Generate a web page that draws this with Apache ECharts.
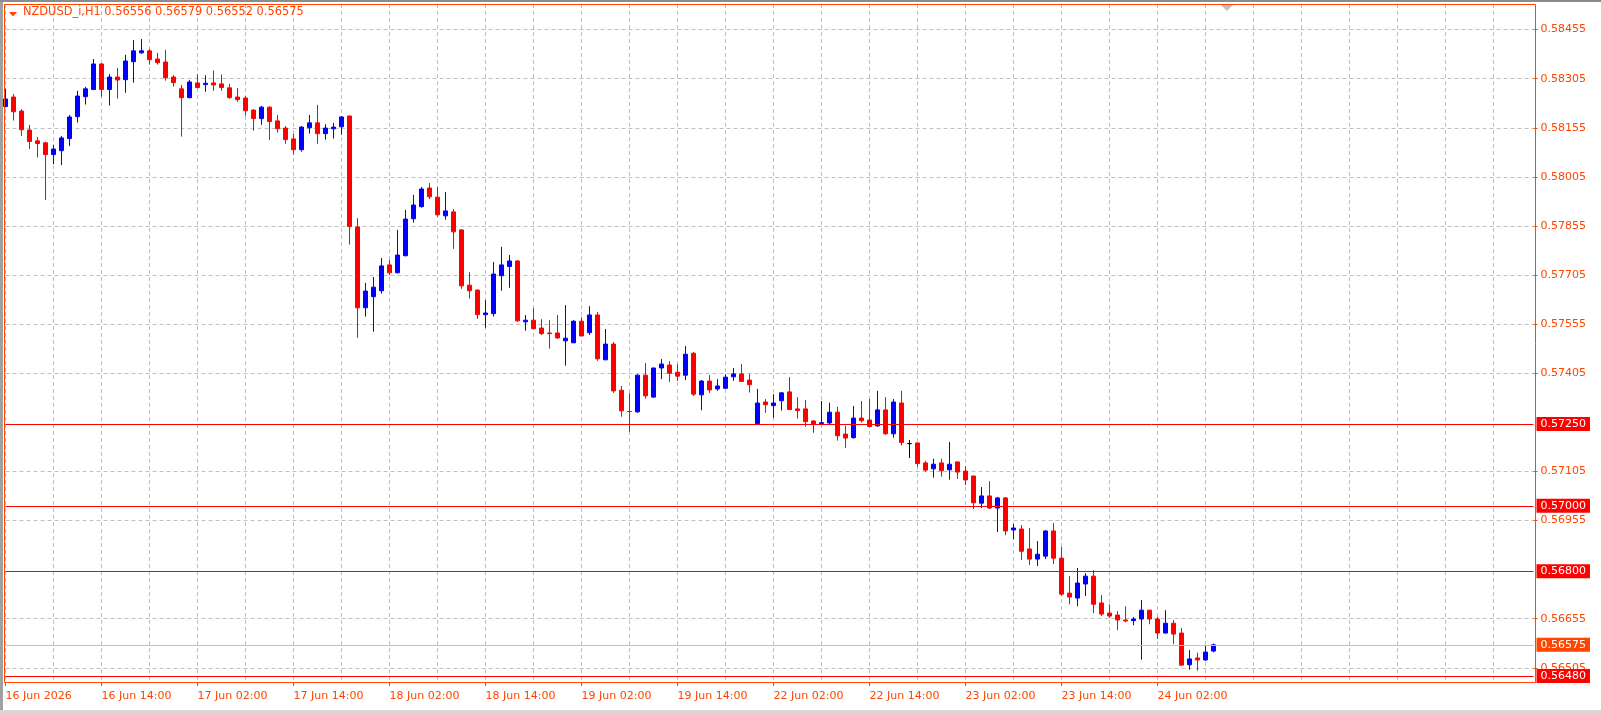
<!DOCTYPE html>
<html>
<head>
<meta charset="utf-8">
<script src="https://cdn.jsdelivr.net/npm/echarts@6/dist/echarts.min.js"></script>
<style>
  html, body { margin: 0; padding: 0; background: #ffffff; }
  #main { width: 1601px; height: 713px; }
</style>
</head>
<body>
<div id="main"></div>
<script>
// NZDUSD_i H1 - bars from 16 Jun 02:00 to 24 Jun 09:00
var days = [['16 Jun', 2, 23], ['17 Jun', 0, 23], ['18 Jun', 0, 23], ['19 Jun', 0, 23],
            ['22 Jun', 0, 23], ['23 Jun', 0, 23], ['24 Jun', 0, 9]];
var tickLabels = ['16 Jun 2026', '16 Jun 14:00', '17 Jun 02:00', '17 Jun 14:00', '18 Jun 02:00',
                  '18 Jun 14:00', '19 Jun 02:00', '19 Jun 14:00', '22 Jun 02:00', '22 Jun 14:00',
                  '23 Jun 02:00', '23 Jun 14:00', '24 Jun 02:00'];
var yTicks = [0.58455, 0.58305, 0.58155, 0.58005, 0.57855, 0.57705, 0.57555, 0.57405,
              0.57105, 0.56955, 0.56655, 0.56505];
var levels = [0.57250, 0.57000, 0.56800, 0.56480];
var bid = 0.56575;
var futureBars = 40;

var openP = [
  0.58220, 0.58249, 0.58206, 0.58148, 0.58115, 0.58109, 0.58073, 0.58085, 0.58122, 0.58189,
  0.58250, 0.58272, 0.58350, 0.58272, 0.58310, 0.58302, 0.58357, 0.58384, 0.58390, 0.58365,
  0.58356, 0.58310, 0.58274, 0.58247, 0.58292, 0.58287, 0.58292, 0.58289, 0.58277, 0.58249,
  0.58246, 0.58209, 0.58183, 0.58218, 0.58176, 0.58154, 0.58121, 0.58088, 0.58155, 0.58170,
  0.58137, 0.58152, 0.58158, 0.58191, 0.57852, 0.57605, 0.57639, 0.57657, 0.57736, 0.57712,
  0.57764, 0.57877, 0.57914, 0.57971, 0.57943, 0.57886, 0.57898, 0.57843, 0.57674, 0.57659,
  0.57584, 0.57587, 0.57703, 0.57731, 0.57748, 0.57562, 0.57567, 0.57543, 0.57528, 0.57528,
  0.57504, 0.57498, 0.57564, 0.57529, 0.57583, 0.57446, 0.57494, 0.57353, 0.57288, 0.57287,
  0.57399, 0.57332, 0.57421, 0.57430, 0.57408, 0.57399, 0.57466, 0.57339, 0.57381, 0.57357,
  0.57359, 0.57394, 0.57403, 0.57384, 0.57251, 0.57317, 0.57306, 0.57321, 0.57348, 0.57296,
  0.57296, 0.57259, 0.57251, 0.57253, 0.57286, 0.57219, 0.57208, 0.57268, 0.57262, 0.57244,
  0.57293, 0.57220, 0.57314, 0.57190, 0.57192, 0.57131, 0.57113, 0.57131, 0.57110, 0.57134,
  0.57106, 0.57091, 0.57008, 0.57030, 0.56993, 0.57024, 0.56926, 0.56929, 0.56868, 0.56837,
  0.56846, 0.56923, 0.56840, 0.56733, 0.56718, 0.56761, 0.56785, 0.56703, 0.56672, 0.56666,
  0.56651, 0.56649, 0.56654, 0.56681, 0.56654, 0.56611, 0.56641, 0.56611, 0.56514, 0.56535,
  0.56529, 0.56556
];
var highP = [
  0.58274, 0.58258, 0.58212, 0.58164, 0.58127, 0.58112, 0.58102, 0.58130, 0.58194, 0.58268,
  0.58280, 0.58365, 0.58352, 0.58319, 0.58338, 0.58378, 0.58423, 0.58426, 0.58396, 0.58384,
  0.58393, 0.58316, 0.58286, 0.58301, 0.58319, 0.58315, 0.58330, 0.58318, 0.58289, 0.58277,
  0.58252, 0.58212, 0.58222, 0.58220, 0.58194, 0.58160, 0.58136, 0.58160, 0.58194, 0.58225,
  0.58166, 0.58170, 0.58191, 0.58192, 0.57879, 0.57681, 0.57699, 0.57757, 0.57751, 0.57843,
  0.57904, 0.57950, 0.57974, 0.57986, 0.57974, 0.57959, 0.57907, 0.57845, 0.57714, 0.57661,
  0.57629, 0.57745, 0.57791, 0.57766, 0.57751, 0.57583, 0.57604, 0.57570, 0.57567, 0.57583,
  0.57613, 0.57567, 0.57576, 0.57610, 0.57592, 0.57540, 0.57500, 0.57366, 0.57344, 0.57402,
  0.57436, 0.57422, 0.57448, 0.57442, 0.57433, 0.57488, 0.57470, 0.57384, 0.57399, 0.57387,
  0.57402, 0.57421, 0.57433, 0.57403, 0.57357, 0.57326, 0.57341, 0.57348, 0.57393, 0.57332,
  0.57323, 0.57262, 0.57320, 0.57315, 0.57302, 0.57245, 0.57305, 0.57320, 0.57326, 0.57351,
  0.57332, 0.57326, 0.57351, 0.57201, 0.57193, 0.57137, 0.57144, 0.57144, 0.57195, 0.57135,
  0.57121, 0.57092, 0.57057, 0.57075, 0.57027, 0.57027, 0.56944, 0.56941, 0.56932, 0.56892,
  0.56925, 0.56947, 0.56874, 0.56785, 0.56810, 0.56794, 0.56803, 0.56727, 0.56699, 0.56678,
  0.56693, 0.56660, 0.56712, 0.56682, 0.56660, 0.56681, 0.56651, 0.56626, 0.56559, 0.56551,
  0.56574, 0.56579
];
var lowP = [
  0.58217, 0.58177, 0.58130, 0.58090, 0.58064, 0.57934, 0.58044, 0.58041, 0.58099, 0.58171,
  0.58226, 0.58270, 0.58250, 0.58223, 0.58244, 0.58262, 0.58293, 0.58381, 0.58348, 0.58348,
  0.58299, 0.58281, 0.58128, 0.58245, 0.58275, 0.58265, 0.58268, 0.58268, 0.58244, 0.58234,
  0.58192, 0.58146, 0.58164, 0.58118, 0.58140, 0.58106, 0.58073, 0.58082, 0.58137, 0.58106,
  0.58119, 0.58122, 0.58134, 0.57798, 0.57513, 0.57578, 0.57532, 0.57648, 0.57705, 0.57710,
  0.57762, 0.57865, 0.57911, 0.57937, 0.57883, 0.57874, 0.57785, 0.57663, 0.57633, 0.57571,
  0.57544, 0.57578, 0.57657, 0.57666, 0.57562, 0.57535, 0.57540, 0.57522, 0.57480, 0.57510,
  0.57428, 0.57497, 0.57518, 0.57522, 0.57443, 0.57445, 0.57345, 0.57272, 0.57226, 0.57284,
  0.57327, 0.57330, 0.57387, 0.57378, 0.57381, 0.57384, 0.57335, 0.57292, 0.57345, 0.57351,
  0.57358, 0.57382, 0.57378, 0.57346, 0.57248, 0.57284, 0.57269, 0.57291, 0.57293, 0.57266,
  0.57242, 0.57223, 0.57250, 0.57248, 0.57199, 0.57177, 0.57205, 0.57254, 0.57240, 0.57242,
  0.57217, 0.57208, 0.57184, 0.57146, 0.57119, 0.57104, 0.57086, 0.57089, 0.57080, 0.57082,
  0.57063, 0.56990, 0.56993, 0.56990, 0.56920, 0.56910, 0.56898, 0.56834, 0.56819, 0.56816,
  0.56837, 0.56822, 0.56724, 0.56699, 0.56693, 0.56724, 0.56672, 0.56663, 0.56657, 0.56620,
  0.56644, 0.56635, 0.56530, 0.56638, 0.56593, 0.56610, 0.56577, 0.56512, 0.56499, 0.56496,
  0.56526, 0.56552
];
var closeP = [
  0.58243, 0.58204, 0.58149, 0.58113, 0.58107, 0.58073, 0.58090, 0.58124, 0.58188, 0.58252,
  0.58274, 0.58350, 0.58272, 0.58310, 0.58301, 0.58359, 0.58390, 0.58390, 0.58363, 0.58354,
  0.58308, 0.58293, 0.58247, 0.58295, 0.58278, 0.58291, 0.58286, 0.58278, 0.58247, 0.58241,
  0.58207, 0.58183, 0.58218, 0.58174, 0.58152, 0.58119, 0.58088, 0.58157, 0.58170, 0.58137,
  0.58154, 0.58157, 0.58188, 0.57853, 0.57605, 0.57656, 0.57668, 0.57733, 0.57712, 0.57766,
  0.57876, 0.57919, 0.57968, 0.57944, 0.57889, 0.57901, 0.57837, 0.57672, 0.57657, 0.57584,
  0.57589, 0.57708, 0.57736, 0.57748, 0.57565, 0.57567, 0.57541, 0.57526, 0.57526, 0.57513,
  0.57512, 0.57564, 0.57519, 0.57583, 0.57449, 0.57494, 0.57351, 0.57290, 0.57288, 0.57399,
  0.57336, 0.57421, 0.57433, 0.57405, 0.57396, 0.57463, 0.57341, 0.57381, 0.57354, 0.57366,
  0.57393, 0.57403, 0.57380, 0.57370, 0.57314, 0.57309, 0.57314, 0.57345, 0.57294, 0.57291,
  0.57257, 0.57248, 0.57254, 0.57286, 0.57214, 0.57207, 0.57268, 0.57260, 0.57242, 0.57293,
  0.57220, 0.57317, 0.57193, 0.57190, 0.57129, 0.57109, 0.57127, 0.57107, 0.57127, 0.57103,
  0.57079, 0.57009, 0.57030, 0.56993, 0.57024, 0.56923, 0.56932, 0.56861, 0.56837, 0.56852,
  0.56923, 0.56840, 0.56730, 0.56721, 0.56764, 0.56785, 0.56699, 0.56669, 0.56663, 0.56651,
  0.56648, 0.56654, 0.56681, 0.56654, 0.56611, 0.56641, 0.56608, 0.56513, 0.56532, 0.56529,
  0.56553, 0.56575
];
var blackDoji = [113];

var orange = '#ff4500';
var font = 'DejaVu Sans';

// hourly categories, weekend skipped, then empty slots for the chart shift
var cats = [];
days.forEach(function (d) {
  for (var h = d[1]; h <= d[2]; h++) {
    cats.push(d[0] + ' ' + (h < 10 ? '0' : '') + h + ':00');
  }
});
var barCount = cats.length;
for (var k = 0; k < futureBars; k++) cats.push('');

var candles = [];
for (var i = 0; i < barCount; i++) {
  var item = { value: [openP[i], closeP[i], lowP[i], highP[i]] };
  if (blackDoji.indexOf(i) >= 0) {
    item.itemStyle = { color: '#000000', color0: '#000000', borderColor: '#000000', borderColor0: '#000000' };
  }
  candles.push(item);
}

function labelTick(index) {
  return index % 12 === 0 && index < barCount;
}

// red level lines + grey bid line, labelled in boxes on the price scale
var levelLines = levels.map(function (v) {
  return {
    yAxis: v,
    lineStyle: { color: '#ff0000', type: 'solid', width: 1 },
    label: { backgroundColor: '#ff0000' }
  };
});
levelLines.push({
  yAxis: bid,
  lineStyle: { color: '#c0c0c0', type: 'solid', width: 1 },
  label: { backgroundColor: orange }
});

var chart = echarts.init(document.getElementById('main'), null, { renderer: 'canvas' });
var option = {
  backgroundColor: '#ffffff',
  animation: false,
  grid: {
    left: 5.5,
    top: 4,
    width: 8 * (cats.length - 1),
    height: 678,
    containLabel: false,
    outerBoundsMode: 'none'
  },
  xAxis: {
    type: 'category',
    data: cats,
    boundaryGap: false,
    axisLine: { show: false },
    axisTick: {
      show: true,
      interval: labelTick,
      length: 4,
      lineStyle: { color: orange }
    },
    axisLabel: {
      interval: labelTick,
      formatter: function (value, index) {
        return tickLabels[index / 12];
      },
      align: 'left',
      color: orange,
      fontFamily: font,
      fontSize: 11,
      margin: 9
    },
    splitLine: {
      show: true,
      interval: function (index) { return index % 6 === 0; },
      lineStyle: { color: '#c0c0c0', type: [4, 3], width: 1 }
    }
  },
  yAxis: {
    type: 'value',
    position: 'right',
    min: 0.564615,
    max: 0.585332,
    axisLine: { show: false },
    axisTick: {
      show: true,
      customValues: yTicks,
      length: 4,
      lineStyle: { color: orange }
    },
    axisLabel: {
      customValues: yTicks,
      formatter: function (v) { return v.toFixed(5); },
      color: orange,
      fontFamily: font,
      fontSize: 11,
      margin: 7
    },
    splitLine: {
      show: true,
      lineStyle: { color: '#c0c0c0', type: [4, 3], width: 1 }
    }
  },
  series: [
    {
      type: 'candlestick',
      data: candles,
      barWidth: 4,
      z: 3,
      itemStyle: {
        color: '#0000ff',
        color0: '#ff0000',
        borderColor: '#0000ff',
        borderColor0: '#ff0000',
        borderWidth: 1
      },
      markLine: {
        silent: true,
        symbol: ['none', 'none'],
        precision: 5,
        label: {
          show: true,
          position: 'end',
          distance: 3,
          formatter: function (p) { return Number(p.value).toFixed(5); },
          color: '#ffffff',
          fontFamily: font,
          fontSize: 11,
          lineHeight: 12,
          padding: [1, 4, 1, 4]
        },
        data: levelLines
      }
    }
  ],
  graphic: [
    { type: 'rect', shape: { x: 0, y: 0, width: 3, height: 713 }, style: { fill: '#a0a0a0' }, z: 10 },
    { type: 'rect', shape: { x: 0, y: 0, width: 1601, height: 2 }, style: { fill: '#8c8c8c' }, z: 10 },
    { type: 'rect', shape: { x: 0, y: 710, width: 1601, height: 3 }, style: { fill: '#d8d8d8' }, z: 10 },
    {
      type: 'rect',
      shape: { x: 4.5, y: 4.5, width: 1531, height: 678 },
      style: { fill: null, stroke: orange, lineWidth: 1 },
      z: 10
    },
    {
      type: 'polygon',
      shape: { points: [[9, 12], [17, 12], [13, 16.5]] },
      style: { fill: orange },
      z: 10
    },
    {
      type: 'polygon',
      shape: { points: [[1221, 5], [1233, 5], [1227, 11]] },
      style: { fill: '#c0c0c0' },
      z: 10
    },
    {
      type: 'text',
      left: 23,
      top: 7,
      style: {
        text: 'NZDUSD_i,H1 0.56556 0.56579 0.56552 0.56575',
        fill: orange,
        font: '11.4px "DejaVu Sans"'
      },
      z: 10
    }
  ]
};
chart.setOption(option);
</script>
</body>
</html>
